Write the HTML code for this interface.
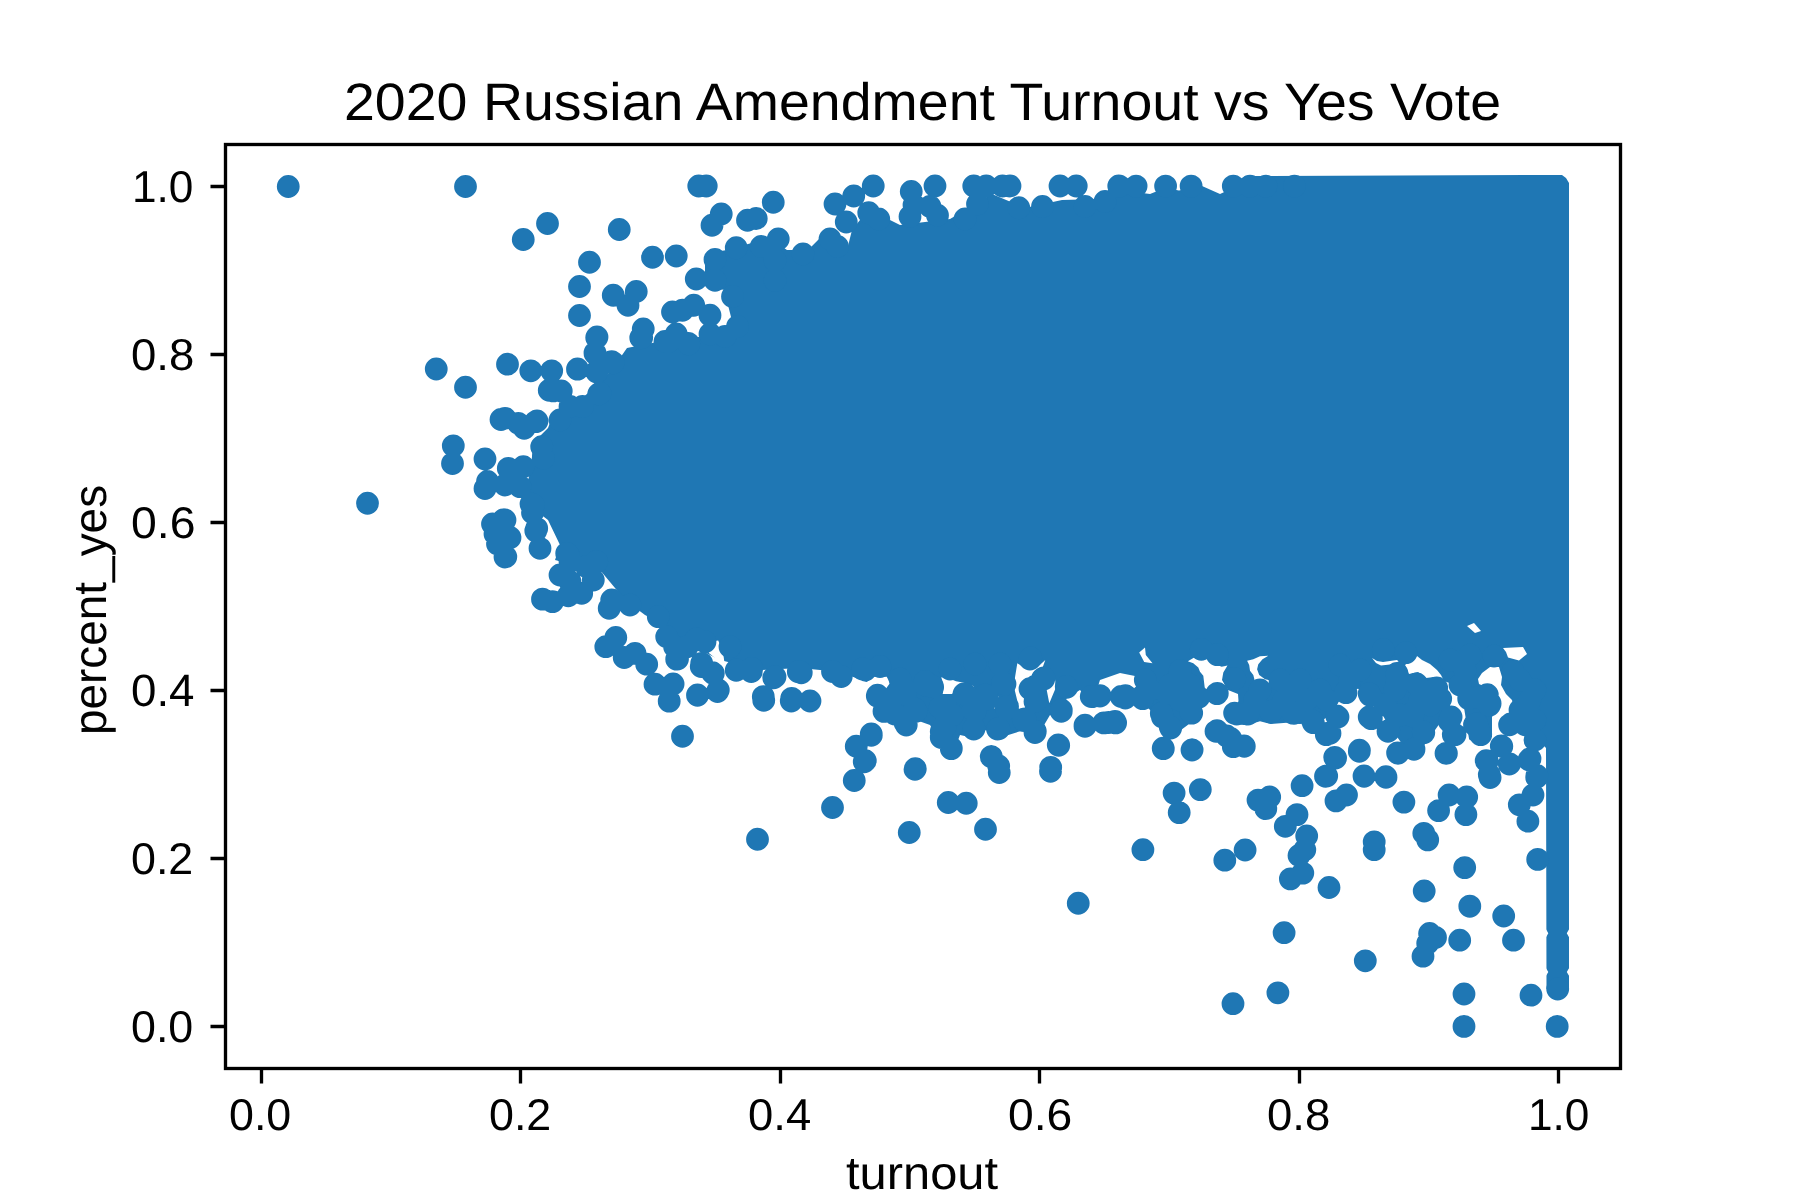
<!DOCTYPE html>
<html><head><meta charset="utf-8"><title>2020 Russian Amendment Turnout vs Yes Vote</title>
<style>html,body{margin:0;padding:0;background:#fff;overflow:hidden}svg{display:block}text{-webkit-font-smoothing:antialiased;text-rendering:geometricPrecision}</style></head>
<body><svg width="1800" height="1200" viewBox="0 0 1800 1200">
<rect width="1800" height="1200" fill="#fff"/>
<path fill="#1f77b4" d="M522,500 L531,470 L533,443 L548,428 L553,415 L563,404 L578,402 L588,393 L600,382 L613,368 L627,348 L657,342 L698,337 L720,335 L733,325 L728,305 L725,290 L712,288 L705,275 L705,262 L715,252 L727,250 L748,244 L770,238 L787,250 L795,250 L810,248 L820,238 L848,246 L852,230 L860,220 L880,215 L900,225 L950,219 L962,212 L992,194 L1025,208 L1062,200 L1100,199 L1119,190 L1150,194 L1165,188 L1179,190.6 L1191,188 L1202,186 L1220,194 L1233,188 L1245,176 L1562,175 L1566,178 L1569,183 L1569,989 L1546.5,989 L1546,748 L1543.3,745.3 L1534,748 L1523.3,740 L1514,730.7 L1500.7,736 L1490,737.3 L1480.7,745.3 L1470,740 L1460.7,733.3 L1450,745.3 L1439.3,724 L1426,742.7 L1412.7,760 L1399.3,740 L1386,721.3 L1378,706 L1366,690 L1352,688 L1340,700 L1330,715 L1320,722 L1300,724 L1286.7,722.7 L1270.7,724 L1260,721.3 L1246.7,725.3 L1233.3,724 L1226.7,702.7 L1217.3,705.3 L1201.3,705.3 L1190.7,722.7 L1180,730.7 L1170.7,737.3 L1161.3,724 L1153.3,713.3 L1145,705 L1138,690 L1135,676 L1120,673 L1100,680 L1092,705 L1080,690 L1066.7,698 L1061.3,720 L1050,715 L1035.3,740 L1024,730 L998.7,738 L986,730 L974,738 L960,735 L951.3,758 L942,745 L930,725 L916,720 L906,733 L894.7,723 L884,720 L877.3,705 L885,690 L890,683 L886.7,676.7 L873.3,676.7 L866.7,682 L840,672 L800,668 L760,670 L720,660 L700,650 L680,640 L665,625 L645,615 L625,600 L610,582 L600,570 L575,565 L555,560 L560,545 L548,520Z"/><path fill="#fff" d="M1545,927.5 L1548.3,933.3 L1545,939ZM1570,927.5 L1566.8,933.3 L1570,939ZM1545,966.5 L1548.3,972 L1545,977.5ZM1570,966.5 L1566.8,972 L1570,977.5ZM707.3,642 L718.2,640.4 L722.9,651.3 L724.4,662.2 L718.2,660.7 L708.9,652.9ZM941.3,677.3 L948,678 L956,681.3 L964,682.7 L973.3,686 L976,694 L966.7,687.3 L956,690 L952,694 L942.7,694 L944,687.3ZM1017.3,663.3 L1028,670 L1037.3,667.3 L1045.3,660 L1042.7,667.3 L1033.3,674 L1026.7,680.7 L1024,690 L1026.7,708.7 L1018.7,708.7 L1017.3,700.7 L1014.7,690 L1014.7,679.3ZM990,703.3 L998.7,696 L994.7,708.7ZM1046.7,690 L1054.7,676.7 L1056,687.3 L1049.3,703.3ZM1139.2,652.5 L1145,647.5 L1145.8,655 L1152.5,663.3 L1144.2,662.1ZM1187.9,661.25 L1195,657.1 L1203.3,659.6 L1210.4,658.3 L1215,664.2 L1221.7,666.7 L1227.5,665.4 L1223.3,672.5 L1222,680 L1228,690 L1238,694 L1238.5,701 L1234,712 L1205,712 L1205,690 L1203.3,675.8 L1200,671.7 L1198.3,667.5 L1193.3,663.3ZM1247.1,660.8 L1253.3,659.2 L1260,656.25 L1268.3,655.8 L1262.5,659.2 L1258.3,664.2 L1257.1,669.2 L1259.2,675 L1265,679.2 L1272.5,680.8 L1269.2,682.9 L1262.5,681.7 L1255,681.7 L1253.3,675 L1250,670.8 L1249.2,665ZM1467,626 L1474,623 L1481,631 L1475,633ZM1503,648 L1523,647 L1527,654 L1519,660.5 L1508,657.5 L1506,652ZM1372,658 L1377,661 L1383,662 L1390,661 L1397,660 L1399,661 L1395,663.5 L1390,664.5 L1381,665.5 L1376,663ZM1405,665 L1412,660 L1417,656 L1422,660 L1430,664 L1437,670 L1441,675 L1444,681 L1452,684 L1457,686 L1462,695 L1470,745 L1455,745 L1448,710 L1447,690 L1440,683 L1434,677 L1426,678 L1418,672 L1409,674 L1407,670ZM1478,679 L1482,673 L1490,667 L1499,667 L1502,677 L1501,685 L1506,694 L1512,700 L1515,714 L1530,748 L1515,748 L1500,737 L1492,737 L1492,717 L1498,705 L1498,695 L1488,688 L1479,684Z"/><path fill="#1f77b4" d="M276.85,186.50a11.4,11.4 0 1,0 22.8,0a11.4,11.4 0 1,0 -22.8,0M454.10,186.50a11.4,11.4 0 1,0 22.8,0a11.4,11.4 0 1,0 -22.8,0M536.10,223.50a11.4,11.4 0 1,0 22.8,0a11.4,11.4 0 1,0 -22.8,0M511.85,239.50a11.4,11.4 0 1,0 22.8,0a11.4,11.4 0 1,0 -22.8,0M607.85,229.50a11.4,11.4 0 1,0 22.8,0a11.4,11.4 0 1,0 -22.8,0M578.10,262.25a11.4,11.4 0 1,0 22.8,0a11.4,11.4 0 1,0 -22.8,0M641.10,257.25a11.4,11.4 0 1,0 22.8,0a11.4,11.4 0 1,0 -22.8,0M568.10,286.50a11.4,11.4 0 1,0 22.8,0a11.4,11.4 0 1,0 -22.8,0M601.85,295.25a11.4,11.4 0 1,0 22.8,0a11.4,11.4 0 1,0 -22.8,0M624.85,291.50a11.4,11.4 0 1,0 22.8,0a11.4,11.4 0 1,0 -22.8,0M616.60,305.25a11.4,11.4 0 1,0 22.8,0a11.4,11.4 0 1,0 -22.8,0M568.10,315.50a11.4,11.4 0 1,0 22.8,0a11.4,11.4 0 1,0 -22.8,0M661.10,312.00a11.4,11.4 0 1,0 22.8,0a11.4,11.4 0 1,0 -22.8,0M631.85,329.00a11.4,11.4 0 1,0 22.8,0a11.4,11.4 0 1,0 -22.8,0M629.35,337.75a11.4,11.4 0 1,0 22.8,0a11.4,11.4 0 1,0 -22.8,0M585.60,337.00a11.4,11.4 0 1,0 22.8,0a11.4,11.4 0 1,0 -22.8,0M583.60,352.75a11.4,11.4 0 1,0 22.8,0a11.4,11.4 0 1,0 -22.8,0M601.85,362.75a11.4,11.4 0 1,0 22.8,0a11.4,11.4 0 1,0 -22.8,0M566.10,369.00a11.4,11.4 0 1,0 22.8,0a11.4,11.4 0 1,0 -22.8,0M585.35,372.00a11.4,11.4 0 1,0 22.8,0a11.4,11.4 0 1,0 -22.8,0M424.85,369.00a11.4,11.4 0 1,0 22.8,0a11.4,11.4 0 1,0 -22.8,0M454.10,387.25a11.4,11.4 0 1,0 22.8,0a11.4,11.4 0 1,0 -22.8,0M537.85,390.25a11.4,11.4 0 1,0 22.8,0a11.4,11.4 0 1,0 -22.8,0M549.85,391.00a11.4,11.4 0 1,0 22.8,0a11.4,11.4 0 1,0 -22.8,0M525.60,421.00a11.4,11.4 0 1,0 22.8,0a11.4,11.4 0 1,0 -22.8,0M441.90,445.80a11.4,11.4 0 1,0 22.8,0a11.4,11.4 0 1,0 -22.8,0M558.60,406.50a11.4,11.4 0 1,0 22.8,0a11.4,11.4 0 1,0 -22.8,0M571.10,406.50a11.4,11.4 0 1,0 22.8,0a11.4,11.4 0 1,0 -22.8,0M587.35,394.00a11.4,11.4 0 1,0 22.8,0a11.4,11.4 0 1,0 -22.8,0M653.60,341.50a11.4,11.4 0 1,0 22.8,0a11.4,11.4 0 1,0 -22.8,0M496.10,364.20a11.4,11.4 0 1,0 22.8,0a11.4,11.4 0 1,0 -22.8,0M519.40,370.80a11.4,11.4 0 1,0 22.8,0a11.4,11.4 0 1,0 -22.8,0M540.30,370.80a11.4,11.4 0 1,0 22.8,0a11.4,11.4 0 1,0 -22.8,0M541.90,390.80a11.4,11.4 0 1,0 22.8,0a11.4,11.4 0 1,0 -22.8,0M566.10,369.20a11.4,11.4 0 1,0 22.8,0a11.4,11.4 0 1,0 -22.8,0M585.30,337.50a11.4,11.4 0 1,0 22.8,0a11.4,11.4 0 1,0 -22.8,0M583.60,353.30a11.4,11.4 0 1,0 22.8,0a11.4,11.4 0 1,0 -22.8,0M585.30,371.70a11.4,11.4 0 1,0 22.8,0a11.4,11.4 0 1,0 -22.8,0M600.30,361.70a11.4,11.4 0 1,0 22.8,0a11.4,11.4 0 1,0 -22.8,0M630.30,337.50a11.4,11.4 0 1,0 22.8,0a11.4,11.4 0 1,0 -22.8,0M656.90,341.70a11.4,11.4 0 1,0 22.8,0a11.4,11.4 0 1,0 -22.8,0M676.90,343.30a11.4,11.4 0 1,0 22.8,0a11.4,11.4 0 1,0 -22.8,0M493.60,418.30a11.4,11.4 0 1,0 22.8,0a11.4,11.4 0 1,0 -22.8,0M506.90,423.30a11.4,11.4 0 1,0 22.8,0a11.4,11.4 0 1,0 -22.8,0M524.40,421.70a11.4,11.4 0 1,0 22.8,0a11.4,11.4 0 1,0 -22.8,0M512.80,428.30a11.4,11.4 0 1,0 22.8,0a11.4,11.4 0 1,0 -22.8,0M548.60,420.00a11.4,11.4 0 1,0 22.8,0a11.4,11.4 0 1,0 -22.8,0M588.60,393.30a11.4,11.4 0 1,0 22.8,0a11.4,11.4 0 1,0 -22.8,0M496.90,468.30a11.4,11.4 0 1,0 22.8,0a11.4,11.4 0 1,0 -22.8,0M511.90,466.70a11.4,11.4 0 1,0 22.8,0a11.4,11.4 0 1,0 -22.8,0M493.60,485.00a11.4,11.4 0 1,0 22.8,0a11.4,11.4 0 1,0 -22.8,0M521.90,505.00a11.4,11.4 0 1,0 22.8,0a11.4,11.4 0 1,0 -22.8,0M491.90,520.00a11.4,11.4 0 1,0 22.8,0a11.4,11.4 0 1,0 -22.8,0M525.30,528.30a11.4,11.4 0 1,0 22.8,0a11.4,11.4 0 1,0 -22.8,0M530.30,446.70a11.4,11.4 0 1,0 22.8,0a11.4,11.4 0 1,0 -22.8,0M531.90,458.30a11.4,11.4 0 1,0 22.8,0a11.4,11.4 0 1,0 -22.8,0M441.10,463.50a11.4,11.4 0 1,0 22.8,0a11.4,11.4 0 1,0 -22.8,0M473.60,459.00a11.4,11.4 0 1,0 22.8,0a11.4,11.4 0 1,0 -22.8,0M476.10,481.50a11.4,11.4 0 1,0 22.8,0a11.4,11.4 0 1,0 -22.8,0M473.60,488.50a11.4,11.4 0 1,0 22.8,0a11.4,11.4 0 1,0 -22.8,0M356.10,503.25a11.4,11.4 0 1,0 22.8,0a11.4,11.4 0 1,0 -22.8,0M519.60,504.00a11.4,11.4 0 1,0 22.8,0a11.4,11.4 0 1,0 -22.8,0M521.10,512.75a11.4,11.4 0 1,0 22.8,0a11.4,11.4 0 1,0 -22.8,0M481.10,524.00a11.4,11.4 0 1,0 22.8,0a11.4,11.4 0 1,0 -22.8,0M483.60,534.00a11.4,11.4 0 1,0 22.8,0a11.4,11.4 0 1,0 -22.8,0M486.10,544.00a11.4,11.4 0 1,0 22.8,0a11.4,11.4 0 1,0 -22.8,0M498.60,537.75a11.4,11.4 0 1,0 22.8,0a11.4,11.4 0 1,0 -22.8,0M493.60,557.00a11.4,11.4 0 1,0 22.8,0a11.4,11.4 0 1,0 -22.8,0M493.60,520.00a11.4,11.4 0 1,0 22.8,0a11.4,11.4 0 1,0 -22.8,0M498.60,537.50a11.4,11.4 0 1,0 22.8,0a11.4,11.4 0 1,0 -22.8,0M494.40,556.70a11.4,11.4 0 1,0 22.8,0a11.4,11.4 0 1,0 -22.8,0M524.40,530.80a11.4,11.4 0 1,0 22.8,0a11.4,11.4 0 1,0 -22.8,0M528.60,548.30a11.4,11.4 0 1,0 22.8,0a11.4,11.4 0 1,0 -22.8,0M548.60,575.00a11.4,11.4 0 1,0 22.8,0a11.4,11.4 0 1,0 -22.8,0M558.60,581.70a11.4,11.4 0 1,0 22.8,0a11.4,11.4 0 1,0 -22.8,0M570.30,593.30a11.4,11.4 0 1,0 22.8,0a11.4,11.4 0 1,0 -22.8,0M531.10,599.20a11.4,11.4 0 1,0 22.8,0a11.4,11.4 0 1,0 -22.8,0M541.10,601.70a11.4,11.4 0 1,0 22.8,0a11.4,11.4 0 1,0 -22.8,0M556.90,595.80a11.4,11.4 0 1,0 22.8,0a11.4,11.4 0 1,0 -22.8,0M581.90,580.00a11.4,11.4 0 1,0 22.8,0a11.4,11.4 0 1,0 -22.8,0M556.90,555.00a11.4,11.4 0 1,0 22.8,0a11.4,11.4 0 1,0 -22.8,0M597.80,608.30a11.4,11.4 0 1,0 22.8,0a11.4,11.4 0 1,0 -22.8,0M600.30,600.00a11.4,11.4 0 1,0 22.8,0a11.4,11.4 0 1,0 -22.8,0M618.60,605.00a11.4,11.4 0 1,0 22.8,0a11.4,11.4 0 1,0 -22.8,0M646.90,616.70a11.4,11.4 0 1,0 22.8,0a11.4,11.4 0 1,0 -22.8,0M594.40,646.70a11.4,11.4 0 1,0 22.8,0a11.4,11.4 0 1,0 -22.8,0M604.40,637.50a11.4,11.4 0 1,0 22.8,0a11.4,11.4 0 1,0 -22.8,0M612.80,657.50a11.4,11.4 0 1,0 22.8,0a11.4,11.4 0 1,0 -22.8,0M623.60,653.30a11.4,11.4 0 1,0 22.8,0a11.4,11.4 0 1,0 -22.8,0M635.30,664.20a11.4,11.4 0 1,0 22.8,0a11.4,11.4 0 1,0 -22.8,0M643.60,684.20a11.4,11.4 0 1,0 22.8,0a11.4,11.4 0 1,0 -22.8,0M661.70,684.00a11.4,11.4 0 1,0 22.8,0a11.4,11.4 0 1,0 -22.8,0M686.10,695.00a11.4,11.4 0 1,0 22.8,0a11.4,11.4 0 1,0 -22.8,0M657.80,701.10a11.4,11.4 0 1,0 22.8,0a11.4,11.4 0 1,0 -22.8,0M706.90,690.00a11.4,11.4 0 1,0 22.8,0a11.4,11.4 0 1,0 -22.8,0M665.30,659.20a11.4,11.4 0 1,0 22.8,0a11.4,11.4 0 1,0 -22.8,0M655.30,636.70a11.4,11.4 0 1,0 22.8,0a11.4,11.4 0 1,0 -22.8,0M690.30,663.30a11.4,11.4 0 1,0 22.8,0a11.4,11.4 0 1,0 -22.8,0M701.90,673.30a11.4,11.4 0 1,0 22.8,0a11.4,11.4 0 1,0 -22.8,0M725.30,670.00a11.4,11.4 0 1,0 22.8,0a11.4,11.4 0 1,0 -22.8,0M740.30,668.30a11.4,11.4 0 1,0 22.8,0a11.4,11.4 0 1,0 -22.8,0M763.60,676.70a11.4,11.4 0 1,0 22.8,0a11.4,11.4 0 1,0 -22.8,0M751.90,696.70a11.4,11.4 0 1,0 22.8,0a11.4,11.4 0 1,0 -22.8,0M780.30,698.30a11.4,11.4 0 1,0 22.8,0a11.4,11.4 0 1,0 -22.8,0M786.90,671.70a11.4,11.4 0 1,0 22.8,0a11.4,11.4 0 1,0 -22.8,0M718.60,646.70a11.4,11.4 0 1,0 22.8,0a11.4,11.4 0 1,0 -22.8,0M693.60,641.70a11.4,11.4 0 1,0 22.8,0a11.4,11.4 0 1,0 -22.8,0M687.35,186.00a11.4,11.4 0 1,0 22.8,0a11.4,11.4 0 1,0 -22.8,0M694.85,186.00a11.4,11.4 0 1,0 22.8,0a11.4,11.4 0 1,0 -22.8,0M709.85,214.00a11.4,11.4 0 1,0 22.8,0a11.4,11.4 0 1,0 -22.8,0M700.60,225.25a11.4,11.4 0 1,0 22.8,0a11.4,11.4 0 1,0 -22.8,0M736.10,220.25a11.4,11.4 0 1,0 22.8,0a11.4,11.4 0 1,0 -22.8,0M744.85,218.50a11.4,11.4 0 1,0 22.8,0a11.4,11.4 0 1,0 -22.8,0M761.85,202.25a11.4,11.4 0 1,0 22.8,0a11.4,11.4 0 1,0 -22.8,0M664.85,256.00a11.4,11.4 0 1,0 22.8,0a11.4,11.4 0 1,0 -22.8,0M703.60,259.50a11.4,11.4 0 1,0 22.8,0a11.4,11.4 0 1,0 -22.8,0M724.85,247.75a11.4,11.4 0 1,0 22.8,0a11.4,11.4 0 1,0 -22.8,0M749.85,246.50a11.4,11.4 0 1,0 22.8,0a11.4,11.4 0 1,0 -22.8,0M766.85,239.00a11.4,11.4 0 1,0 22.8,0a11.4,11.4 0 1,0 -22.8,0M684.85,279.00a11.4,11.4 0 1,0 22.8,0a11.4,11.4 0 1,0 -22.8,0M703.60,280.25a11.4,11.4 0 1,0 22.8,0a11.4,11.4 0 1,0 -22.8,0M763.60,260.25a11.4,11.4 0 1,0 22.8,0a11.4,11.4 0 1,0 -22.8,0M763.60,280.25a11.4,11.4 0 1,0 22.8,0a11.4,11.4 0 1,0 -22.8,0M791.60,254.00a11.4,11.4 0 1,0 22.8,0a11.4,11.4 0 1,0 -22.8,0M818.60,239.00a11.4,11.4 0 1,0 22.8,0a11.4,11.4 0 1,0 -22.8,0M826.10,246.50a11.4,11.4 0 1,0 22.8,0a11.4,11.4 0 1,0 -22.8,0M823.60,204.00a11.4,11.4 0 1,0 22.8,0a11.4,11.4 0 1,0 -22.8,0M842.35,196.00a11.4,11.4 0 1,0 22.8,0a11.4,11.4 0 1,0 -22.8,0M861.85,186.00a11.4,11.4 0 1,0 22.8,0a11.4,11.4 0 1,0 -22.8,0M834.85,222.00a11.4,11.4 0 1,0 22.8,0a11.4,11.4 0 1,0 -22.8,0M857.35,212.75a11.4,11.4 0 1,0 22.8,0a11.4,11.4 0 1,0 -22.8,0M867.35,219.00a11.4,11.4 0 1,0 22.8,0a11.4,11.4 0 1,0 -22.8,0M899.85,191.50a11.4,11.4 0 1,0 22.8,0a11.4,11.4 0 1,0 -22.8,0M923.60,186.00a11.4,11.4 0 1,0 22.8,0a11.4,11.4 0 1,0 -22.8,0M918.60,206.50a11.4,11.4 0 1,0 22.8,0a11.4,11.4 0 1,0 -22.8,0M898.60,216.50a11.4,11.4 0 1,0 22.8,0a11.4,11.4 0 1,0 -22.8,0M926.10,215.25a11.4,11.4 0 1,0 22.8,0a11.4,11.4 0 1,0 -22.8,0M962.35,186.00a11.4,11.4 0 1,0 22.8,0a11.4,11.4 0 1,0 -22.8,0M974.85,186.00a11.4,11.4 0 1,0 22.8,0a11.4,11.4 0 1,0 -22.8,0M991.10,186.00a11.4,11.4 0 1,0 22.8,0a11.4,11.4 0 1,0 -22.8,0M998.60,186.00a11.4,11.4 0 1,0 22.8,0a11.4,11.4 0 1,0 -22.8,0M966.10,204.00a11.4,11.4 0 1,0 22.8,0a11.4,11.4 0 1,0 -22.8,0M1007.35,207.75a11.4,11.4 0 1,0 22.8,0a11.4,11.4 0 1,0 -22.8,0M953.60,219.00a11.4,11.4 0 1,0 22.8,0a11.4,11.4 0 1,0 -22.8,0M1031.10,206.50a11.4,11.4 0 1,0 22.8,0a11.4,11.4 0 1,0 -22.8,0M1048.60,186.00a11.4,11.4 0 1,0 22.8,0a11.4,11.4 0 1,0 -22.8,0M1064.85,186.00a11.4,11.4 0 1,0 22.8,0a11.4,11.4 0 1,0 -22.8,0M1073.60,206.50a11.4,11.4 0 1,0 22.8,0a11.4,11.4 0 1,0 -22.8,0M1107.35,186.00a11.4,11.4 0 1,0 22.8,0a11.4,11.4 0 1,0 -22.8,0M1093.60,201.50a11.4,11.4 0 1,0 22.8,0a11.4,11.4 0 1,0 -22.8,0M671.10,310.25a11.4,11.4 0 1,0 22.8,0a11.4,11.4 0 1,0 -22.8,0M682.35,305.25a11.4,11.4 0 1,0 22.8,0a11.4,11.4 0 1,0 -22.8,0M698.60,315.25a11.4,11.4 0 1,0 22.8,0a11.4,11.4 0 1,0 -22.8,0M721.10,296.50a11.4,11.4 0 1,0 22.8,0a11.4,11.4 0 1,0 -22.8,0M664.85,334.00a11.4,11.4 0 1,0 22.8,0a11.4,11.4 0 1,0 -22.8,0M677.35,344.00a11.4,11.4 0 1,0 22.8,0a11.4,11.4 0 1,0 -22.8,0M698.60,334.00a11.4,11.4 0 1,0 22.8,0a11.4,11.4 0 1,0 -22.8,0M713.60,336.50a11.4,11.4 0 1,0 22.8,0a11.4,11.4 0 1,0 -22.8,0M726.10,326.50a11.4,11.4 0 1,0 22.8,0a11.4,11.4 0 1,0 -22.8,0M666.10,659.00a11.4,11.4 0 1,0 22.8,0a11.4,11.4 0 1,0 -22.8,0M689.85,666.50a11.4,11.4 0 1,0 22.8,0a11.4,11.4 0 1,0 -22.8,0M701.10,672.75a11.4,11.4 0 1,0 22.8,0a11.4,11.4 0 1,0 -22.8,0M724.85,670.25a11.4,11.4 0 1,0 22.8,0a11.4,11.4 0 1,0 -22.8,0M739.85,671.50a11.4,11.4 0 1,0 22.8,0a11.4,11.4 0 1,0 -22.8,0M762.35,677.75a11.4,11.4 0 1,0 22.8,0a11.4,11.4 0 1,0 -22.8,0M789.85,672.75a11.4,11.4 0 1,0 22.8,0a11.4,11.4 0 1,0 -22.8,0M821.10,671.50a11.4,11.4 0 1,0 22.8,0a11.4,11.4 0 1,0 -22.8,0M829.85,676.50a11.4,11.4 0 1,0 22.8,0a11.4,11.4 0 1,0 -22.8,0M851.10,669.00a11.4,11.4 0 1,0 22.8,0a11.4,11.4 0 1,0 -22.8,0M868.60,666.50a11.4,11.4 0 1,0 22.8,0a11.4,11.4 0 1,0 -22.8,0M686.10,695.25a11.4,11.4 0 1,0 22.8,0a11.4,11.4 0 1,0 -22.8,0M706.10,691.50a11.4,11.4 0 1,0 22.8,0a11.4,11.4 0 1,0 -22.8,0M752.35,700.25a11.4,11.4 0 1,0 22.8,0a11.4,11.4 0 1,0 -22.8,0M779.85,701.00a11.4,11.4 0 1,0 22.8,0a11.4,11.4 0 1,0 -22.8,0M798.60,701.00a11.4,11.4 0 1,0 22.8,0a11.4,11.4 0 1,0 -22.8,0M859.85,734.00a11.4,11.4 0 1,0 22.8,0a11.4,11.4 0 1,0 -22.8,0M866.10,695.25a11.4,11.4 0 1,0 22.8,0a11.4,11.4 0 1,0 -22.8,0M876.10,709.00a11.4,11.4 0 1,0 22.8,0a11.4,11.4 0 1,0 -22.8,0M893.60,722.75a11.4,11.4 0 1,0 22.8,0a11.4,11.4 0 1,0 -22.8,0M903.60,709.00a11.4,11.4 0 1,0 22.8,0a11.4,11.4 0 1,0 -22.8,0M888.60,679.00a11.4,11.4 0 1,0 22.8,0a11.4,11.4 0 1,0 -22.8,0M893.60,694.00a11.4,11.4 0 1,0 22.8,0a11.4,11.4 0 1,0 -22.8,0M913.60,681.50a11.4,11.4 0 1,0 22.8,0a11.4,11.4 0 1,0 -22.8,0M921.10,686.50a11.4,11.4 0 1,0 22.8,0a11.4,11.4 0 1,0 -22.8,0M931.10,706.50a11.4,11.4 0 1,0 22.8,0a11.4,11.4 0 1,0 -22.8,0M929.85,731.50a11.4,11.4 0 1,0 22.8,0a11.4,11.4 0 1,0 -22.8,0M953.60,694.00a11.4,11.4 0 1,0 22.8,0a11.4,11.4 0 1,0 -22.8,0M963.60,711.50a11.4,11.4 0 1,0 22.8,0a11.4,11.4 0 1,0 -22.8,0M962.35,729.00a11.4,11.4 0 1,0 22.8,0a11.4,11.4 0 1,0 -22.8,0M976.10,699.00a11.4,11.4 0 1,0 22.8,0a11.4,11.4 0 1,0 -22.8,0M986.10,729.00a11.4,11.4 0 1,0 22.8,0a11.4,11.4 0 1,0 -22.8,0M996.10,706.50a11.4,11.4 0 1,0 22.8,0a11.4,11.4 0 1,0 -22.8,0M993.60,684.00a11.4,11.4 0 1,0 22.8,0a11.4,11.4 0 1,0 -22.8,0M1013.60,719.00a11.4,11.4 0 1,0 22.8,0a11.4,11.4 0 1,0 -22.8,0M1023.60,731.50a11.4,11.4 0 1,0 22.8,0a11.4,11.4 0 1,0 -22.8,0M1023.60,701.50a11.4,11.4 0 1,0 22.8,0a11.4,11.4 0 1,0 -22.8,0M1023.60,686.50a11.4,11.4 0 1,0 22.8,0a11.4,11.4 0 1,0 -22.8,0M1032.35,679.00a11.4,11.4 0 1,0 22.8,0a11.4,11.4 0 1,0 -22.8,0M1049.85,710.25a11.4,11.4 0 1,0 22.8,0a11.4,11.4 0 1,0 -22.8,0M1054.85,686.50a11.4,11.4 0 1,0 22.8,0a11.4,11.4 0 1,0 -22.8,0M1079.85,696.50a11.4,11.4 0 1,0 22.8,0a11.4,11.4 0 1,0 -22.8,0M1073.60,725.25a11.4,11.4 0 1,0 22.8,0a11.4,11.4 0 1,0 -22.8,0M1103.60,721.50a11.4,11.4 0 1,0 22.8,0a11.4,11.4 0 1,0 -22.8,0M1109.85,696.50a11.4,11.4 0 1,0 22.8,0a11.4,11.4 0 1,0 -22.8,0M1018.60,659.00a11.4,11.4 0 1,0 22.8,0a11.4,11.4 0 1,0 -22.8,0M938.60,669.00a11.4,11.4 0 1,0 22.8,0a11.4,11.4 0 1,0 -22.8,0M963.60,664.00a11.4,11.4 0 1,0 22.8,0a11.4,11.4 0 1,0 -22.8,0M988.60,664.00a11.4,11.4 0 1,0 22.8,0a11.4,11.4 0 1,0 -22.8,0M671.10,736.25a11.4,11.4 0 1,0 22.8,0a11.4,11.4 0 1,0 -22.8,0M844.85,746.25a11.4,11.4 0 1,0 22.8,0a11.4,11.4 0 1,0 -22.8,0M852.85,761.75a11.4,11.4 0 1,0 22.8,0a11.4,11.4 0 1,0 -22.8,0M842.85,780.50a11.4,11.4 0 1,0 22.8,0a11.4,11.4 0 1,0 -22.8,0M821.10,807.50a11.4,11.4 0 1,0 22.8,0a11.4,11.4 0 1,0 -22.8,0M746.10,839.25a11.4,11.4 0 1,0 22.8,0a11.4,11.4 0 1,0 -22.8,0M903.60,769.25a11.4,11.4 0 1,0 22.8,0a11.4,11.4 0 1,0 -22.8,0M897.85,832.50a11.4,11.4 0 1,0 22.8,0a11.4,11.4 0 1,0 -22.8,0M936.85,802.50a11.4,11.4 0 1,0 22.8,0a11.4,11.4 0 1,0 -22.8,0M954.85,803.25a11.4,11.4 0 1,0 22.8,0a11.4,11.4 0 1,0 -22.8,0M974.10,829.25a11.4,11.4 0 1,0 22.8,0a11.4,11.4 0 1,0 -22.8,0M939.85,748.00a11.4,11.4 0 1,0 22.8,0a11.4,11.4 0 1,0 -22.8,0M929.85,737.50a11.4,11.4 0 1,0 22.8,0a11.4,11.4 0 1,0 -22.8,0M979.85,756.75a11.4,11.4 0 1,0 22.8,0a11.4,11.4 0 1,0 -22.8,0M987.85,772.50a11.4,11.4 0 1,0 22.8,0a11.4,11.4 0 1,0 -22.8,0M1039.10,771.25a11.4,11.4 0 1,0 22.8,0a11.4,11.4 0 1,0 -22.8,0M1046.85,745.00a11.4,11.4 0 1,0 22.8,0a11.4,11.4 0 1,0 -22.8,0M1073.60,726.25a11.4,11.4 0 1,0 22.8,0a11.4,11.4 0 1,0 -22.8,0M1097.35,722.50a11.4,11.4 0 1,0 22.8,0a11.4,11.4 0 1,0 -22.8,0M1066.85,903.25a11.4,11.4 0 1,0 22.8,0a11.4,11.4 0 1,0 -22.8,0M1023.60,732.50a11.4,11.4 0 1,0 22.8,0a11.4,11.4 0 1,0 -22.8,0M1049.85,711.25a11.4,11.4 0 1,0 22.8,0a11.4,11.4 0 1,0 -22.8,0M1018.60,688.75a11.4,11.4 0 1,0 22.8,0a11.4,11.4 0 1,0 -22.8,0M1031.10,678.75a11.4,11.4 0 1,0 22.8,0a11.4,11.4 0 1,0 -22.8,0M1013.60,720.00a11.4,11.4 0 1,0 22.8,0a11.4,11.4 0 1,0 -22.8,0M894.85,725.00a11.4,11.4 0 1,0 22.8,0a11.4,11.4 0 1,0 -22.8,0M866.10,696.25a11.4,11.4 0 1,0 22.8,0a11.4,11.4 0 1,0 -22.8,0M933.60,725.00a11.4,11.4 0 1,0 22.8,0a11.4,11.4 0 1,0 -22.8,0M973.60,695.00a11.4,11.4 0 1,0 22.8,0a11.4,11.4 0 1,0 -22.8,0M928.60,707.50a11.4,11.4 0 1,0 22.8,0a11.4,11.4 0 1,0 -22.8,0M893.60,690.00a11.4,11.4 0 1,0 22.8,0a11.4,11.4 0 1,0 -22.8,0M913.60,685.00a11.4,11.4 0 1,0 22.8,0a11.4,11.4 0 1,0 -22.8,0M941.10,715.00a11.4,11.4 0 1,0 22.8,0a11.4,11.4 0 1,0 -22.8,0M1151.80,748.20a11.4,11.4 0 1,0 22.8,0a11.4,11.4 0 1,0 -22.8,0M1180.70,749.80a11.4,11.4 0 1,0 22.8,0a11.4,11.4 0 1,0 -22.8,0M1205.60,730.70a11.4,11.4 0 1,0 22.8,0a11.4,11.4 0 1,0 -22.8,0M1219.30,738.50a11.4,11.4 0 1,0 22.8,0a11.4,11.4 0 1,0 -22.8,0M1232.90,746.30a11.4,11.4 0 1,0 22.8,0a11.4,11.4 0 1,0 -22.8,0M1162.70,793.10a11.4,11.4 0 1,0 22.8,0a11.4,11.4 0 1,0 -22.8,0M1167.80,812.60a11.4,11.4 0 1,0 22.8,0a11.4,11.4 0 1,0 -22.8,0M1188.90,789.60a11.4,11.4 0 1,0 22.8,0a11.4,11.4 0 1,0 -22.8,0M1131.50,849.70a11.4,11.4 0 1,0 22.8,0a11.4,11.4 0 1,0 -22.8,0M1213.40,860.20a11.4,11.4 0 1,0 22.8,0a11.4,11.4 0 1,0 -22.8,0M1233.70,850.00a11.4,11.4 0 1,0 22.8,0a11.4,11.4 0 1,0 -22.8,0M1246.60,800.10a11.4,11.4 0 1,0 22.8,0a11.4,11.4 0 1,0 -22.8,0M1258.30,797.00a11.4,11.4 0 1,0 22.8,0a11.4,11.4 0 1,0 -22.8,0M1254.40,808.70a11.4,11.4 0 1,0 22.8,0a11.4,11.4 0 1,0 -22.8,0M1273.90,826.30a11.4,11.4 0 1,0 22.8,0a11.4,11.4 0 1,0 -22.8,0M1285.60,814.60a11.4,11.4 0 1,0 22.8,0a11.4,11.4 0 1,0 -22.8,0M1290.70,785.70a11.4,11.4 0 1,0 22.8,0a11.4,11.4 0 1,0 -22.8,0M1295.30,836.00a11.4,11.4 0 1,0 22.8,0a11.4,11.4 0 1,0 -22.8,0M1293.40,849.70a11.4,11.4 0 1,0 22.8,0a11.4,11.4 0 1,0 -22.8,0M1287.60,855.50a11.4,11.4 0 1,0 22.8,0a11.4,11.4 0 1,0 -22.8,0M1291.40,873.10a11.4,11.4 0 1,0 22.8,0a11.4,11.4 0 1,0 -22.8,0M1279.00,878.90a11.4,11.4 0 1,0 22.8,0a11.4,11.4 0 1,0 -22.8,0M1317.60,887.50a11.4,11.4 0 1,0 22.8,0a11.4,11.4 0 1,0 -22.8,0M1272.70,932.70a11.4,11.4 0 1,0 22.8,0a11.4,11.4 0 1,0 -22.8,0M1266.50,992.80a11.4,11.4 0 1,0 22.8,0a11.4,11.4 0 1,0 -22.8,0M1221.60,1003.70a11.4,11.4 0 1,0 22.8,0a11.4,11.4 0 1,0 -22.8,0M1353.90,960.80a11.4,11.4 0 1,0 22.8,0a11.4,11.4 0 1,0 -22.8,0M1362.80,841.90a11.4,11.4 0 1,0 22.8,0a11.4,11.4 0 1,0 -22.8,0M1362.80,849.70a11.4,11.4 0 1,0 22.8,0a11.4,11.4 0 1,0 -22.8,0M1314.10,776.30a11.4,11.4 0 1,0 22.8,0a11.4,11.4 0 1,0 -22.8,0M1324.20,758.00a11.4,11.4 0 1,0 22.8,0a11.4,11.4 0 1,0 -22.8,0M1324.60,800.90a11.4,11.4 0 1,0 22.8,0a11.4,11.4 0 1,0 -22.8,0M1335.10,795.00a11.4,11.4 0 1,0 22.8,0a11.4,11.4 0 1,0 -22.8,0M1348.00,750.20a11.4,11.4 0 1,0 22.8,0a11.4,11.4 0 1,0 -22.8,0M1352.70,776.30a11.4,11.4 0 1,0 22.8,0a11.4,11.4 0 1,0 -22.8,0M1374.50,776.70a11.4,11.4 0 1,0 22.8,0a11.4,11.4 0 1,0 -22.8,0M1377.30,730.70a11.4,11.4 0 1,0 22.8,0a11.4,11.4 0 1,0 -22.8,0M1386.20,752.90a11.4,11.4 0 1,0 22.8,0a11.4,11.4 0 1,0 -22.8,0M1402.60,749.00a11.4,11.4 0 1,0 22.8,0a11.4,11.4 0 1,0 -22.8,0M1392.50,802.10a11.4,11.4 0 1,0 22.8,0a11.4,11.4 0 1,0 -22.8,0M1412.40,833.30a11.4,11.4 0 1,0 22.8,0a11.4,11.4 0 1,0 -22.8,0M1416.30,839.90a11.4,11.4 0 1,0 22.8,0a11.4,11.4 0 1,0 -22.8,0M1412.80,891.00a11.4,11.4 0 1,0 22.8,0a11.4,11.4 0 1,0 -22.8,0M1418.20,933.50a11.4,11.4 0 1,0 22.8,0a11.4,11.4 0 1,0 -22.8,0M1416.30,943.30a11.4,11.4 0 1,0 22.8,0a11.4,11.4 0 1,0 -22.8,0M1411.60,956.20a11.4,11.4 0 1,0 22.8,0a11.4,11.4 0 1,0 -22.8,0M1424.10,937.40a11.4,11.4 0 1,0 22.8,0a11.4,11.4 0 1,0 -22.8,0M1427.20,810.60a11.4,11.4 0 1,0 22.8,0a11.4,11.4 0 1,0 -22.8,0M1437.70,795.00a11.4,11.4 0 1,0 22.8,0a11.4,11.4 0 1,0 -22.8,0M1435.00,753.30a11.4,11.4 0 1,0 22.8,0a11.4,11.4 0 1,0 -22.8,0M1455.30,797.00a11.4,11.4 0 1,0 22.8,0a11.4,11.4 0 1,0 -22.8,0M1454.50,814.60a11.4,11.4 0 1,0 22.8,0a11.4,11.4 0 1,0 -22.8,0M1453.30,867.60a11.4,11.4 0 1,0 22.8,0a11.4,11.4 0 1,0 -22.8,0M1458.40,906.20a11.4,11.4 0 1,0 22.8,0a11.4,11.4 0 1,0 -22.8,0M1448.30,940.20a11.4,11.4 0 1,0 22.8,0a11.4,11.4 0 1,0 -22.8,0M1452.60,994.00a11.4,11.4 0 1,0 22.8,0a11.4,11.4 0 1,0 -22.8,0M1452.60,1026.40a11.4,11.4 0 1,0 22.8,0a11.4,11.4 0 1,0 -22.8,0M1492.30,916.00a11.4,11.4 0 1,0 22.8,0a11.4,11.4 0 1,0 -22.8,0M1502.10,940.20a11.4,11.4 0 1,0 22.8,0a11.4,11.4 0 1,0 -22.8,0M1519.60,995.20a11.4,11.4 0 1,0 22.8,0a11.4,11.4 0 1,0 -22.8,0M1526.30,859.40a11.4,11.4 0 1,0 22.8,0a11.4,11.4 0 1,0 -22.8,0M1516.50,821.20a11.4,11.4 0 1,0 22.8,0a11.4,11.4 0 1,0 -22.8,0M1507.90,804.80a11.4,11.4 0 1,0 22.8,0a11.4,11.4 0 1,0 -22.8,0M1521.60,795.00a11.4,11.4 0 1,0 22.8,0a11.4,11.4 0 1,0 -22.8,0M1478.70,777.50a11.4,11.4 0 1,0 22.8,0a11.4,11.4 0 1,0 -22.8,0M1474.80,760.70a11.4,11.4 0 1,0 22.8,0a11.4,11.4 0 1,0 -22.8,0M1490.40,746.30a11.4,11.4 0 1,0 22.8,0a11.4,11.4 0 1,0 -22.8,0M1498.20,763.80a11.4,11.4 0 1,0 22.8,0a11.4,11.4 0 1,0 -22.8,0M1517.70,759.90a11.4,11.4 0 1,0 22.8,0a11.4,11.4 0 1,0 -22.8,0M1525.50,775.50a11.4,11.4 0 1,0 22.8,0a11.4,11.4 0 1,0 -22.8,0M1467.00,728.70a11.4,11.4 0 1,0 22.8,0a11.4,11.4 0 1,0 -22.8,0M1498.20,724.80a11.4,11.4 0 1,0 22.8,0a11.4,11.4 0 1,0 -22.8,0M1545.80,1026.40a11.4,11.4 0 1,0 22.8,0a11.4,11.4 0 1,0 -22.8,0M1104.20,722.90a11.4,11.4 0 1,0 22.8,0a11.4,11.4 0 1,0 -22.8,0M1092.50,722.90a11.4,11.4 0 1,0 22.8,0a11.4,11.4 0 1,0 -22.8,0M1088.60,695.60a11.4,11.4 0 1,0 22.8,0a11.4,11.4 0 1,0 -22.8,0M1114.00,695.60a11.4,11.4 0 1,0 22.8,0a11.4,11.4 0 1,0 -22.8,0M1131.50,695.60a11.4,11.4 0 1,0 22.8,0a11.4,11.4 0 1,0 -22.8,0M1151.00,717.00a11.4,11.4 0 1,0 22.8,0a11.4,11.4 0 1,0 -22.8,0M1158.80,726.80a11.4,11.4 0 1,0 22.8,0a11.4,11.4 0 1,0 -22.8,0M1180.30,713.10a11.4,11.4 0 1,0 22.8,0a11.4,11.4 0 1,0 -22.8,0M1205.60,693.60a11.4,11.4 0 1,0 22.8,0a11.4,11.4 0 1,0 -22.8,0M1223.20,713.10a11.4,11.4 0 1,0 22.8,0a11.4,11.4 0 1,0 -22.8,0M1236.80,713.10a11.4,11.4 0 1,0 22.8,0a11.4,11.4 0 1,0 -22.8,0M1260.20,711.20a11.4,11.4 0 1,0 22.8,0a11.4,11.4 0 1,0 -22.8,0M1281.70,713.10a11.4,11.4 0 1,0 22.8,0a11.4,11.4 0 1,0 -22.8,0M1301.20,720.90a11.4,11.4 0 1,0 22.8,0a11.4,11.4 0 1,0 -22.8,0M1314.90,734.60a11.4,11.4 0 1,0 22.8,0a11.4,11.4 0 1,0 -22.8,0M1326.60,717.00a11.4,11.4 0 1,0 22.8,0a11.4,11.4 0 1,0 -22.8,0M1334.40,691.70a11.4,11.4 0 1,0 22.8,0a11.4,11.4 0 1,0 -22.8,0M1357.80,717.00a11.4,11.4 0 1,0 22.8,0a11.4,11.4 0 1,0 -22.8,0M1357.80,693.60a11.4,11.4 0 1,0 22.8,0a11.4,11.4 0 1,0 -22.8,0M1385.10,683.90a11.4,11.4 0 1,0 22.8,0a11.4,11.4 0 1,0 -22.8,0M1400.70,713.10a11.4,11.4 0 1,0 22.8,0a11.4,11.4 0 1,0 -22.8,0M1412.40,732.60a11.4,11.4 0 1,0 22.8,0a11.4,11.4 0 1,0 -22.8,0M1428.00,697.50a11.4,11.4 0 1,0 22.8,0a11.4,11.4 0 1,0 -22.8,0M1439.70,717.00a11.4,11.4 0 1,0 22.8,0a11.4,11.4 0 1,0 -22.8,0M1443.60,734.60a11.4,11.4 0 1,0 22.8,0a11.4,11.4 0 1,0 -22.8,0M1463.10,724.80a11.4,11.4 0 1,0 22.8,0a11.4,11.4 0 1,0 -22.8,0M1467.00,697.50a11.4,11.4 0 1,0 22.8,0a11.4,11.4 0 1,0 -22.8,0M1478.70,703.40a11.4,11.4 0 1,0 22.8,0a11.4,11.4 0 1,0 -22.8,0M1513.80,724.80a11.4,11.4 0 1,0 22.8,0a11.4,11.4 0 1,0 -22.8,0M1103.30,722.70a11.4,11.4 0 1,0 22.8,0a11.4,11.4 0 1,0 -22.8,0M1113.90,698.00a11.4,11.4 0 1,0 22.8,0a11.4,11.4 0 1,0 -22.8,0M1131.30,698.70a11.4,11.4 0 1,0 22.8,0a11.4,11.4 0 1,0 -22.8,0M1149.90,713.30a11.4,11.4 0 1,0 22.8,0a11.4,11.4 0 1,0 -22.8,0M1159.30,728.00a11.4,11.4 0 1,0 22.8,0a11.4,11.4 0 1,0 -22.8,0M1151.90,748.70a11.4,11.4 0 1,0 22.8,0a11.4,11.4 0 1,0 -22.8,0M1180.60,750.00a11.4,11.4 0 1,0 22.8,0a11.4,11.4 0 1,0 -22.8,0M1179.30,712.00a11.4,11.4 0 1,0 22.8,0a11.4,11.4 0 1,0 -22.8,0M1187.30,697.30a11.4,11.4 0 1,0 22.8,0a11.4,11.4 0 1,0 -22.8,0M1205.90,693.30a11.4,11.4 0 1,0 22.8,0a11.4,11.4 0 1,0 -22.8,0M1204.60,731.30a11.4,11.4 0 1,0 22.8,0a11.4,11.4 0 1,0 -22.8,0M1215.30,736.00a11.4,11.4 0 1,0 22.8,0a11.4,11.4 0 1,0 -22.8,0M1221.90,746.70a11.4,11.4 0 1,0 22.8,0a11.4,11.4 0 1,0 -22.8,0M1232.60,746.00a11.4,11.4 0 1,0 22.8,0a11.4,11.4 0 1,0 -22.8,0M1225.30,714.00a11.4,11.4 0 1,0 22.8,0a11.4,11.4 0 1,0 -22.8,0M1236.60,714.00a11.4,11.4 0 1,0 22.8,0a11.4,11.4 0 1,0 -22.8,0M1259.30,712.00a11.4,11.4 0 1,0 22.8,0a11.4,11.4 0 1,0 -22.8,0M1282.60,713.30a11.4,11.4 0 1,0 22.8,0a11.4,11.4 0 1,0 -22.8,0M1301.90,722.70a11.4,11.4 0 1,0 22.8,0a11.4,11.4 0 1,0 -22.8,0M1315.30,733.30a11.4,11.4 0 1,0 22.8,0a11.4,11.4 0 1,0 -22.8,0M1323.30,757.30a11.4,11.4 0 1,0 22.8,0a11.4,11.4 0 1,0 -22.8,0M1315.30,776.00a11.4,11.4 0 1,0 22.8,0a11.4,11.4 0 1,0 -22.8,0M1223.30,678.70a11.4,11.4 0 1,0 22.8,0a11.4,11.4 0 1,0 -22.8,0M1205.90,654.70a11.4,11.4 0 1,0 22.8,0a11.4,11.4 0 1,0 -22.8,0M1189.90,649.30a11.4,11.4 0 1,0 22.8,0a11.4,11.4 0 1,0 -22.8,0M1168.60,670.70a11.4,11.4 0 1,0 22.8,0a11.4,11.4 0 1,0 -22.8,0M1133.90,680.00a11.4,11.4 0 1,0 22.8,0a11.4,11.4 0 1,0 -22.8,0M1088.60,696.00a11.4,11.4 0 1,0 22.8,0a11.4,11.4 0 1,0 -22.8,0M1243.30,700.00a11.4,11.4 0 1,0 22.8,0a11.4,11.4 0 1,0 -22.8,0M1272.60,700.00a11.4,11.4 0 1,0 22.8,0a11.4,11.4 0 1,0 -22.8,0M1295.30,700.00a11.4,11.4 0 1,0 22.8,0a11.4,11.4 0 1,0 -22.8,0M1315.30,700.00a11.4,11.4 0 1,0 22.8,0a11.4,11.4 0 1,0 -22.8,0M1155.30,693.30a11.4,11.4 0 1,0 22.8,0a11.4,11.4 0 1,0 -22.8,0M1168.60,700.00a11.4,11.4 0 1,0 22.8,0a11.4,11.4 0 1,0 -22.8,0M1138.60,690.00a11.4,11.4 0 1,0 22.8,0a11.4,11.4 0 1,0 -22.8,0M1248.60,690.00a11.4,11.4 0 1,0 22.8,0a11.4,11.4 0 1,0 -22.8,0M1278.60,690.00a11.4,11.4 0 1,0 22.8,0a11.4,11.4 0 1,0 -22.8,0M1308.60,690.00a11.4,11.4 0 1,0 22.8,0a11.4,11.4 0 1,0 -22.8,0M1288.60,680.00a11.4,11.4 0 1,0 22.8,0a11.4,11.4 0 1,0 -22.8,0M1268.60,680.00a11.4,11.4 0 1,0 22.8,0a11.4,11.4 0 1,0 -22.8,0M1158.60,685.00a11.4,11.4 0 1,0 22.8,0a11.4,11.4 0 1,0 -22.8,0M1178.60,685.00a11.4,11.4 0 1,0 22.8,0a11.4,11.4 0 1,0 -22.8,0M1334.60,692.70a11.4,11.4 0 1,0 22.8,0a11.4,11.4 0 1,0 -22.8,0M1325.30,716.00a11.4,11.4 0 1,0 22.8,0a11.4,11.4 0 1,0 -22.8,0M1318.60,733.30a11.4,11.4 0 1,0 22.8,0a11.4,11.4 0 1,0 -22.8,0M1323.90,758.00a11.4,11.4 0 1,0 22.8,0a11.4,11.4 0 1,0 -22.8,0M1347.90,751.30a11.4,11.4 0 1,0 22.8,0a11.4,11.4 0 1,0 -22.8,0M1352.60,776.00a11.4,11.4 0 1,0 22.8,0a11.4,11.4 0 1,0 -22.8,0M1374.60,777.30a11.4,11.4 0 1,0 22.8,0a11.4,11.4 0 1,0 -22.8,0M1358.60,695.30a11.4,11.4 0 1,0 22.8,0a11.4,11.4 0 1,0 -22.8,0M1359.90,718.70a11.4,11.4 0 1,0 22.8,0a11.4,11.4 0 1,0 -22.8,0M1376.60,731.30a11.4,11.4 0 1,0 22.8,0a11.4,11.4 0 1,0 -22.8,0M1386.60,753.30a11.4,11.4 0 1,0 22.8,0a11.4,11.4 0 1,0 -22.8,0M1402.60,749.30a11.4,11.4 0 1,0 22.8,0a11.4,11.4 0 1,0 -22.8,0M1411.90,732.00a11.4,11.4 0 1,0 22.8,0a11.4,11.4 0 1,0 -22.8,0M1401.30,716.00a11.4,11.4 0 1,0 22.8,0a11.4,11.4 0 1,0 -22.8,0M1405.30,684.00a11.4,11.4 0 1,0 22.8,0a11.4,11.4 0 1,0 -22.8,0M1425.30,688.00a11.4,11.4 0 1,0 22.8,0a11.4,11.4 0 1,0 -22.8,0M1429.30,698.70a11.4,11.4 0 1,0 22.8,0a11.4,11.4 0 1,0 -22.8,0M1437.90,721.30a11.4,11.4 0 1,0 22.8,0a11.4,11.4 0 1,0 -22.8,0M1441.90,734.70a11.4,11.4 0 1,0 22.8,0a11.4,11.4 0 1,0 -22.8,0M1434.60,753.30a11.4,11.4 0 1,0 22.8,0a11.4,11.4 0 1,0 -22.8,0M1457.30,698.70a11.4,11.4 0 1,0 22.8,0a11.4,11.4 0 1,0 -22.8,0M1465.30,724.00a11.4,11.4 0 1,0 22.8,0a11.4,11.4 0 1,0 -22.8,0M1469.30,734.70a11.4,11.4 0 1,0 22.8,0a11.4,11.4 0 1,0 -22.8,0M1477.90,705.30a11.4,11.4 0 1,0 22.8,0a11.4,11.4 0 1,0 -22.8,0M1475.90,694.70a11.4,11.4 0 1,0 22.8,0a11.4,11.4 0 1,0 -22.8,0M1489.90,746.00a11.4,11.4 0 1,0 22.8,0a11.4,11.4 0 1,0 -22.8,0M1475.90,761.30a11.4,11.4 0 1,0 22.8,0a11.4,11.4 0 1,0 -22.8,0M1497.90,764.00a11.4,11.4 0 1,0 22.8,0a11.4,11.4 0 1,0 -22.8,0M1477.90,774.70a11.4,11.4 0 1,0 22.8,0a11.4,11.4 0 1,0 -22.8,0M1499.30,724.00a11.4,11.4 0 1,0 22.8,0a11.4,11.4 0 1,0 -22.8,0M1518.60,758.70a11.4,11.4 0 1,0 22.8,0a11.4,11.4 0 1,0 -22.8,0M1525.30,777.30a11.4,11.4 0 1,0 22.8,0a11.4,11.4 0 1,0 -22.8,0M1371.90,649.60a11.4,11.4 0 1,0 22.8,0a11.4,11.4 0 1,0 -22.8,0M1394.60,652.70a11.4,11.4 0 1,0 22.8,0a11.4,11.4 0 1,0 -22.8,0M1385.60,673.50a11.4,11.4 0 1,0 22.8,0a11.4,11.4 0 1,0 -22.8,0M1482.60,656.00a11.4,11.4 0 1,0 22.8,0a11.4,11.4 0 1,0 -22.8,0M1501.60,671.50a11.4,11.4 0 1,0 22.8,0a11.4,11.4 0 1,0 -22.8,0M1328.60,665.00a11.4,11.4 0 1,0 22.8,0a11.4,11.4 0 1,0 -22.8,0M1348.60,670.00a11.4,11.4 0 1,0 22.8,0a11.4,11.4 0 1,0 -22.8,0M1338.60,680.00a11.4,11.4 0 1,0 22.8,0a11.4,11.4 0 1,0 -22.8,0M1383.60,690.00a11.4,11.4 0 1,0 22.8,0a11.4,11.4 0 1,0 -22.8,0M1373.60,705.00a11.4,11.4 0 1,0 22.8,0a11.4,11.4 0 1,0 -22.8,0M1388.60,715.00a11.4,11.4 0 1,0 22.8,0a11.4,11.4 0 1,0 -22.8,0M1438.60,660.00a11.4,11.4 0 1,0 22.8,0a11.4,11.4 0 1,0 -22.8,0M1453.60,670.00a11.4,11.4 0 1,0 22.8,0a11.4,11.4 0 1,0 -22.8,0M1448.60,685.00a11.4,11.4 0 1,0 22.8,0a11.4,11.4 0 1,0 -22.8,0M1508.60,680.00a11.4,11.4 0 1,0 22.8,0a11.4,11.4 0 1,0 -22.8,0M1518.60,700.00a11.4,11.4 0 1,0 22.8,0a11.4,11.4 0 1,0 -22.8,0M1508.60,710.00a11.4,11.4 0 1,0 22.8,0a11.4,11.4 0 1,0 -22.8,0M1523.60,690.00a11.4,11.4 0 1,0 22.8,0a11.4,11.4 0 1,0 -22.8,0M1523.60,720.00a11.4,11.4 0 1,0 22.8,0a11.4,11.4 0 1,0 -22.8,0M1523.60,740.00a11.4,11.4 0 1,0 22.8,0a11.4,11.4 0 1,0 -22.8,0M1458.60,655.00a11.4,11.4 0 1,0 22.8,0a11.4,11.4 0 1,0 -22.8,0M1418.60,705.00a11.4,11.4 0 1,0 22.8,0a11.4,11.4 0 1,0 -22.8,0M1408.60,700.00a11.4,11.4 0 1,0 22.8,0a11.4,11.4 0 1,0 -22.8,0M853.90,670.00a11.4,11.4 0 1,0 22.8,0a11.4,11.4 0 1,0 -22.8,0M865.90,696.00a11.4,11.4 0 1,0 22.8,0a11.4,11.4 0 1,0 -22.8,0M859.90,735.30a11.4,11.4 0 1,0 22.8,0a11.4,11.4 0 1,0 -22.8,0M853.90,760.70a11.4,11.4 0 1,0 22.8,0a11.4,11.4 0 1,0 -22.8,0M903.90,768.70a11.4,11.4 0 1,0 22.8,0a11.4,11.4 0 1,0 -22.8,0M872.60,711.30a11.4,11.4 0 1,0 22.8,0a11.4,11.4 0 1,0 -22.8,0M883.30,714.00a11.4,11.4 0 1,0 22.8,0a11.4,11.4 0 1,0 -22.8,0M894.60,723.30a11.4,11.4 0 1,0 22.8,0a11.4,11.4 0 1,0 -22.8,0M887.30,692.70a11.4,11.4 0 1,0 22.8,0a11.4,11.4 0 1,0 -22.8,0M904.60,711.30a11.4,11.4 0 1,0 22.8,0a11.4,11.4 0 1,0 -22.8,0M933.90,726.00a11.4,11.4 0 1,0 22.8,0a11.4,11.4 0 1,0 -22.8,0M929.90,736.70a11.4,11.4 0 1,0 22.8,0a11.4,11.4 0 1,0 -22.8,0M939.90,748.70a11.4,11.4 0 1,0 22.8,0a11.4,11.4 0 1,0 -22.8,0M933.90,706.00a11.4,11.4 0 1,0 22.8,0a11.4,11.4 0 1,0 -22.8,0M952.60,694.00a11.4,11.4 0 1,0 22.8,0a11.4,11.4 0 1,0 -22.8,0M962.60,728.70a11.4,11.4 0 1,0 22.8,0a11.4,11.4 0 1,0 -22.8,0M987.30,728.70a11.4,11.4 0 1,0 22.8,0a11.4,11.4 0 1,0 -22.8,0M979.90,756.70a11.4,11.4 0 1,0 22.8,0a11.4,11.4 0 1,0 -22.8,0M987.30,766.00a11.4,11.4 0 1,0 22.8,0a11.4,11.4 0 1,0 -22.8,0M995.30,708.70a11.4,11.4 0 1,0 22.8,0a11.4,11.4 0 1,0 -22.8,0M1012.60,720.70a11.4,11.4 0 1,0 22.8,0a11.4,11.4 0 1,0 -22.8,0M1023.90,731.30a11.4,11.4 0 1,0 22.8,0a11.4,11.4 0 1,0 -22.8,0M1024.60,700.70a11.4,11.4 0 1,0 22.8,0a11.4,11.4 0 1,0 -22.8,0M1023.30,688.70a11.4,11.4 0 1,0 22.8,0a11.4,11.4 0 1,0 -22.8,0M1032.60,678.00a11.4,11.4 0 1,0 22.8,0a11.4,11.4 0 1,0 -22.8,0M1049.90,710.00a11.4,11.4 0 1,0 22.8,0a11.4,11.4 0 1,0 -22.8,0M1055.30,687.30a11.4,11.4 0 1,0 22.8,0a11.4,11.4 0 1,0 -22.8,0M1047.30,745.30a11.4,11.4 0 1,0 22.8,0a11.4,11.4 0 1,0 -22.8,0M1073.90,726.00a11.4,11.4 0 1,0 22.8,0a11.4,11.4 0 1,0 -22.8,0M1080.60,696.70a11.4,11.4 0 1,0 22.8,0a11.4,11.4 0 1,0 -22.8,0M1039.30,767.30a11.4,11.4 0 1,0 22.8,0a11.4,11.4 0 1,0 -22.8,0M991.30,683.30a11.4,11.4 0 1,0 22.8,0a11.4,11.4 0 1,0 -22.8,0M961.90,710.00a11.4,11.4 0 1,0 22.8,0a11.4,11.4 0 1,0 -22.8,0M1019.30,658.00a11.4,11.4 0 1,0 22.8,0a11.4,11.4 0 1,0 -22.8,0M1546.30,989.00a11.4,11.4 0 1,0 22.8,0a11.4,11.4 0 1,0 -22.8,0M508.60,486.70a11.4,11.4 0 1,0 22.8,0a11.4,11.4 0 1,0 -22.8,0M558.60,561.70a11.4,11.4 0 1,0 22.8,0a11.4,11.4 0 1,0 -22.8,0M575.30,566.70a11.4,11.4 0 1,0 22.8,0a11.4,11.4 0 1,0 -22.8,0M585.30,561.70a11.4,11.4 0 1,0 22.8,0a11.4,11.4 0 1,0 -22.8,0M555.30,553.30a11.4,11.4 0 1,0 22.8,0a11.4,11.4 0 1,0 -22.8,0M675.70,646.70a11.4,11.4 0 1,0 22.8,0a11.4,11.4 0 1,0 -22.8,0M685.00,638.90a11.4,11.4 0 1,0 22.8,0a11.4,11.4 0 1,0 -22.8,0M663.20,646.70a11.4,11.4 0 1,0 22.8,0a11.4,11.4 0 1,0 -22.8,0M489.60,419.50a11.4,11.4 0 1,0 22.8,0a11.4,11.4 0 1,0 -22.8,0M902.60,205.00a11.4,11.4 0 1,0 22.8,0a11.4,11.4 0 1,0 -22.8,0M1108.00,186.10a11.4,11.4 0 1,0 22.8,0a11.4,11.4 0 1,0 -22.8,0M1124.70,186.10a11.4,11.4 0 1,0 22.8,0a11.4,11.4 0 1,0 -22.8,0M1154.20,186.10a11.4,11.4 0 1,0 22.8,0a11.4,11.4 0 1,0 -22.8,0M1179.70,186.10a11.4,11.4 0 1,0 22.8,0a11.4,11.4 0 1,0 -22.8,0M1221.90,186.10a11.4,11.4 0 1,0 22.8,0a11.4,11.4 0 1,0 -22.8,0M1238.60,186.10a11.4,11.4 0 1,0 22.8,0a11.4,11.4 0 1,0 -22.8,0M1254.60,186.10a11.4,11.4 0 1,0 22.8,0a11.4,11.4 0 1,0 -22.8,0M1283.00,186.10a11.4,11.4 0 1,0 22.8,0a11.4,11.4 0 1,0 -22.8,0"/>
<rect x="225.5" y="144.5" width="1395" height="924" fill="none" stroke="#000" stroke-width="3.333"/>
<path d="M261.5,1068.5V1083.5M520.5,1068.5V1083.5M780.5,1068.5V1083.5M1039.5,1068.5V1083.5M1299.5,1068.5V1083.5M1558.5,1068.5V1083.5M210.5,186.5H225.5M210.5,354.5H225.5M210.5,522.5H225.5M210.5,690.5H225.5M210.5,858.5H225.5M210.5,1026.5H225.5" stroke="#000" stroke-width="3.333" fill="none"/>
<g font-family='"Liberation Sans", sans-serif' fill="#000" opacity="0.999"><text x="344.00" y="120.00" font-size="52.778" textLength="1157.03" lengthAdjust="spacingAndGlyphs">2020 Russian Amendment Turnout vs Yes Vote</text><text x="132.00" y="202.00" font-size="44.544" textLength="61.40" lengthAdjust="spacingAndGlyphs">1.0</text><text x="131.00" y="370.00" font-size="44.544" textLength="63.29" lengthAdjust="spacingAndGlyphs">0.8</text><text x="131.00" y="538.00" font-size="44.386" textLength="64.48" lengthAdjust="spacingAndGlyphs">0.6</text><text x="131.00" y="706.00" font-size="45.300" textLength="63.53" lengthAdjust="spacingAndGlyphs">0.4</text><text x="131.00" y="874.00" font-size="44.544" textLength="62.30" lengthAdjust="spacingAndGlyphs">0.2</text><text x="131.00" y="1042.00" font-size="44.544" textLength="62.25" lengthAdjust="spacingAndGlyphs">0.0</text><text x="229.00" y="1130.00" font-size="44.544" textLength="62.25" lengthAdjust="spacingAndGlyphs">0.0</text><text x="489.00" y="1130.00" font-size="44.544" textLength="62.30" lengthAdjust="spacingAndGlyphs">0.2</text><text x="748.00" y="1130.00" font-size="44.544" textLength="63.16" lengthAdjust="spacingAndGlyphs">0.4</text><text x="1008.00" y="1130.00" font-size="44.544" textLength="64.29" lengthAdjust="spacingAndGlyphs">0.6</text><text x="1267.00" y="1130.00" font-size="44.544" textLength="63.29" lengthAdjust="spacingAndGlyphs">0.8</text><text x="1528.00" y="1130.00" font-size="44.544" textLength="61.40" lengthAdjust="spacingAndGlyphs">1.0</text><text x="846.00" y="1189.00" font-size="46.300" textLength="152.01" lengthAdjust="spacingAndGlyphs">turnout</text><text transform="translate(106.00,735.00) rotate(-90)" x="0" y="0" font-size="46.461" textLength="250.10" lengthAdjust="spacingAndGlyphs">percent_yes</text></g>
</svg></body></html>
